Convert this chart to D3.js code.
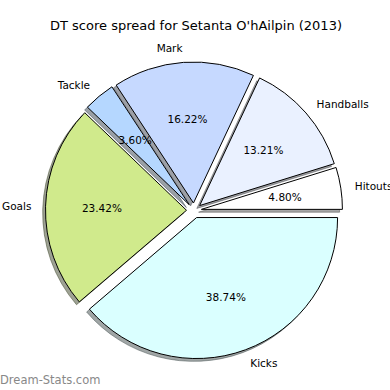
<!DOCTYPE html>
<html><head><meta charset="utf-8">
<script src="https://cdn.jsdelivr.net/npm/d3@7"></script>
<style>html,body{margin:0;padding:0;background:#fff;}svg{display:block;}</style>
</head><body>
<script>
const categories = ["Hitouts","Handballs","Mark","Tackle","Goals","Kicks"];
const values = [4.80, 13.21, 16.22, 3.60, 23.42, 38.74];
const pctLabels = ["4.80%","13.21%","16.22%","3.60%","23.42%","38.74%"];
const colors = ["#ffffff","#eaf1ff","#c6d9ff","#b5d7ff","#d0ea8c","#daffff"];
const title = "DT score spread for Setanta O'hAilpin (2013)";

const W = 390, H = 390;
const cx = 194, cy = 210.5, R = 141, explode = 7.5, shadowOff = 0.02 * R;

const svg = d3.select("body").append("svg").attr("width", W).attr("height", H)
  .style("font-family", "'DejaVu Sans', sans-serif");

const pie = d3.pie().sort(null).value(d => d)
  .startAngle(Math.PI / 2).endAngle(Math.PI / 2 - 2 * Math.PI);
const arcs = pie(values);
const arc = d3.arc().innerRadius(0).outerRadius(R);

function dir(a) {
  const m = (a.startAngle + a.endAngle) / 2;
  return [Math.sin(m), -Math.cos(m)];
}

const g = svg.append("g");
// shadows
arcs.forEach((a, i) => {
  const [dx, dy] = dir(a);
  const c = d3.rgb(colors[i]);
  const sc = d3.rgb(c.r * 0.3, c.g * 0.3, c.b * 0.3);
  g.append("path").attr("d", arc(a))
    .attr("transform", `translate(${cx + dx * explode - shadowOff},${cy + dy * explode + shadowOff})`)
    .attr("fill", sc).attr("fill-opacity", 0.5)
    .attr("stroke", sc).attr("stroke-opacity", 0.5).attr("stroke-width", 1);
});
// wedges
arcs.forEach((a, i) => {
  const [dx, dy] = dir(a);
  g.append("path").attr("d", arc(a))
    .attr("transform", `translate(${cx + dx * explode},${cy + dy * explode})`)
    .attr("fill", colors[i]).attr("stroke", "#000").attr("stroke-width", 1)
    .attr("stroke-linejoin", "round");
});
// labels
arcs.forEach((a, i) => {
  const [dx, dy] = dir(a);
  const ox = cx + dx * explode, oy = cy + dy * explode;
  g.append("text")
    .attr("x", ox + dx * 1.1 * R).attr("y", oy + dy * 1.1 * R)
    .attr("text-anchor", dx > 0 ? "start" : "end")
    .attr("dominant-baseline", "central")
    .attr("font-size", 10.5).attr("fill", "#000")
    .text(categories[i]);
  g.append("text")
    .attr("x", ox + dx * 0.6 * R).attr("y", oy + dy * 0.6 * R)
    .attr("text-anchor", "middle")
    .attr("dominant-baseline", "central")
    .attr("font-size", 10.5).attr("fill", "#000")
    .text(pctLabels[i]);
});

svg.append("text").attr("x", 196).attr("y", 25)
  .attr("text-anchor", "middle").attr("dominant-baseline", "central")
  .attr("font-size", 13).attr("fill", "#000").text(title);

svg.append("text").attr("x", 0).attr("y", 380)
  .attr("dominant-baseline", "central")
  .attr("font-size", 11.5).attr("fill", "#888888")
  .text("Dream-Stats.com");
</script>
</body></html>
